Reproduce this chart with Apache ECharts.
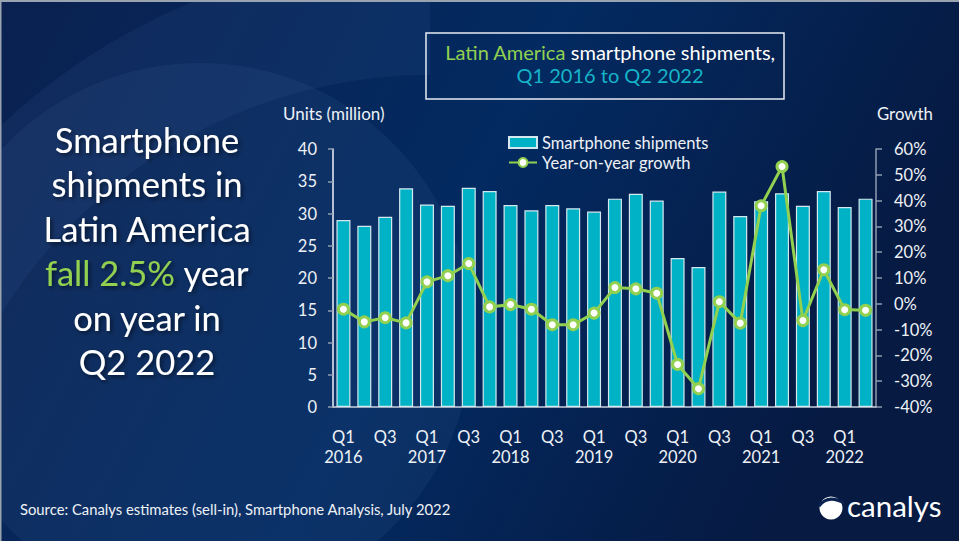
<!DOCTYPE html>
<html><head><meta charset="utf-8">
<script src="https://cdn.jsdelivr.net/npm/echarts@6/dist/echarts.min.js"></script>
<style>html,body{margin:0;padding:0;background:#0a2352;}#c{width:959px;height:541px;}</style>
</head><body><div id="c"></div>
<script>
const quarters = ['Q1 2016','Q2 2016','Q3 2016','Q4 2016','Q1 2017','Q2 2017','Q3 2017','Q4 2017','Q1 2018','Q2 2018','Q3 2018','Q4 2018','Q1 2019','Q2 2019','Q3 2019','Q4 2019','Q1 2020','Q2 2020','Q3 2020','Q4 2020','Q1 2021','Q2 2021','Q3 2021','Q4 2021','Q1 2022','Q2 2022'];
const shipments = [29.0, 28.1, 29.5, 33.9, 31.4, 31.2, 34.0, 33.5, 31.3, 30.5, 31.3, 30.8, 30.3, 32.3, 33.05, 32.0, 23.1, 21.7, 33.4, 29.6, 31.9, 33.15, 31.2, 33.5, 31.0, 32.3];
const growth = [-2.1, -7.0, -5.4, -7.4, 8.5, 10.9, 15.6, -1.2, -0.3, -2.1, -8.1, -8.1, -3.6, 6.3, 5.8, 4.1, -23.5, -32.9, 0.8, -7.5, 38.0, 53.2, -6.5, 13.2, -2.3, -2.5];
const leftTicks = {min: 0, max: 40, interval: 5};
const rightTicks = {min: -40, max: 60, interval: 10};

const FONT = 'Lato';
const TXT = '#eef2f7';
const SH = {textShadowColor: 'rgba(0,0,0,0.55)', textShadowBlur: 4, textShadowOffsetX: 2, textShadowOffsetY: 2};
const chart = echarts.init(document.getElementById('c'), null, {renderer: 'svg'});
chart.setOption({
  backgroundColor: {
    type: 'linear', x: 0, y: 0, x2: 1, y2: 0.3,
    colorStops: [{offset: 0, color: '#0a2150'}, {offset: 0.55, color: '#032a61'}, {offset: 1, color: '#061a42'}]
  },
  textStyle: {fontFamily: FONT},
  graphic: [
    {type: 'circle', silent: true, z: -10, shape: {cx: 200, cy: 335, r: 272}, style: {fill: 'rgba(120,160,220,0.075)'}},
    {type: 'sector', silent: true, z: -10, shape: {cx: 430, cy: 580, r0: 505, r: 625, startAngle: Math.PI, endAngle: Math.PI * 1.5}, style: {fill: 'rgba(120,160,220,0.07)'}},
    {type: 'rect', silent: true, shape: {x: 0, y: 0, width: 959, height: 2}, style: {fill: '#9aa3b0'}},
    {type: 'rect', silent: true, shape: {x: 0, y: 0, width: 1.5, height: 541}, style: {fill: '#9aa3b0'}},
    {type: 'rect', silent: true, shape: {x: 426, y: 33, width: 358, height: 66}, style: {fill: 'none', stroke: '#e6ebf2', lineWidth: 1.5}},
    {type: 'text', x: 283, y: 105, style: {text: 'Units (million)', fill: TXT, fontSize: 17, fontFamily: FONT}},
    {type: 'text', x: 877, y: 105, style: {text: 'Growth', fill: TXT, fontSize: 16.8, fontFamily: FONT}},
    {type: 'text', x: 20, y: 501, style: {text: 'Source: Canalys estimates (sell-in), Smartphone Analysis, July 2022', fill: TXT, fontSize: 14.8, fontFamily: FONT}},
    {type: 'circle', silent: true, shape: {cx: 831, cy: 508, r: 11.5}, style: {fill: '#ffffff'}},
    {type: 'bezierCurve', silent: true, shape: {x1: 819, y1: 506, x2: 844, y2: 503, cpx1: 828, cpy1: 494}, style: {stroke: '#0a2350', lineWidth: 3, fill: 'none'}},
    {type: 'text', x: 847, y: 490, style: {text: 'canalys', fill: '#ffffff', fontSize: 29.5, fontFamily: FONT}}
  ],
  title: [
    {
      text: '{g|Latin America} {w|smartphone shipments,}\n{t|Q1 2016 to Q2 2022}',
      left: 605, top: 35, textAlign: 'center',
      textStyle: {
        lineHeight: 23, fontSize: 20, fontWeight: 'normal',
        rich: {
          g: {color: '#92d050', fontSize: 20, fontWeight: 'normal', fontFamily: FONT, lineHeight: 23},
          w: {color: '#ffffff', fontSize: 20, fontWeight: 'normal', fontFamily: FONT, lineHeight: 23},
          t: {color: '#16b4c8', fontSize: 20, fontWeight: 'normal', fontFamily: FONT, lineHeight: 23}
        }
      }
    },
    {
      text: '{w|Smartphone}\n{w|shipments in}\n{w|Latin America}\n{g|fall 2.5%}{w| year}\n{w|on year in}\n{w|Q2 2022}',
      left: 142, top: 112, textAlign: 'center',
      textStyle: {
        lineHeight: 44.5, fontSize: 34.5, fontWeight: 'normal',
        rich: {
          w: Object.assign({color: '#ffffff', fontSize: 34.5, fontWeight: 'normal', fontFamily: FONT, lineHeight: 44.5}, SH),
          g: Object.assign({color: '#92d050', fontSize: 34.5, fontWeight: 'normal', fontFamily: FONT, lineHeight: 44.5}, SH)
        }
      }
    }
  ],
  legend: {
    left: 503, top: 129, orient: 'vertical', itemGap: 3, itemWidth: 28, itemHeight: 11,
    textStyle: {color: TXT, fontSize: 16.5, fontFamily: FONT, lineHeight: 15},
    data: [{name: 'Smartphone shipments', icon: 'rect'}, {name: 'Year-on-year growth'}]
  },
  grid: {left: 333, right: 83, top: 149, bottom: 134, containLabel: false},
  xAxis: {
    type: 'category', data: quarters,
    axisLine: {lineStyle: {color: '#c9d1dc', width: 1.5}},
    axisTick: {show: false},
    axisLabel: {
      interval: 0, color: TXT, fontSize: 16.5, lineHeight: 20, margin: 20, fontFamily: FONT,
      formatter: function (v) {
        const p = v.split(' ');
        if (p[0] === 'Q1') return 'Q1\n' + p[1];
        if (p[0] === 'Q3') return 'Q3';
        return '';
      }
    }
  },
  yAxis: [
    {
      type: 'value', min: leftTicks.min, max: leftTicks.max, interval: leftTicks.interval,
      axisLine: {show: true, lineStyle: {color: '#eef2f7', width: 1.5}},
      axisTick: {show: true, length: 5, lineStyle: {color: '#8f9db0', width: 1.5}},
      axisLabel: {color: TXT, fontSize: 16.5, margin: 16, fontFamily: FONT},
      splitLine: {show: false}
    },
    {
      type: 'value', min: rightTicks.min, max: rightTicks.max, interval: rightTicks.interval, position: 'right',
      axisLine: {show: true, lineStyle: {color: '#8f9db0', width: 1.5}},
      axisTick: {show: true, length: 6, lineStyle: {color: '#8f9db0', width: 1.5}},
      axisLabel: {color: TXT, fontSize: 16.5, margin: 18, fontFamily: FONT, formatter: '{value}%'},
      splitLine: {show: false}
    }
  ],
  series: [
    {
      name: 'Smartphone shipments', type: 'bar', data: shipments, yAxisIndex: 0, barWidth: 14,
      itemStyle: {color: '#00b2c5', borderColor: '#d4e8ef', borderWidth: 1.2},
      z: 2
    },
    {
      name: 'Year-on-year growth', type: 'line', data: growth, yAxisIndex: 1,
      symbol: 'circle', symbolSize: 10,
      lineStyle: {color: '#92d050', width: 3},
      itemStyle: {color: '#ffffff', borderColor: '#92d050', borderWidth: 3},
      z: 3
    }
  ]
});
</script></body></html>
